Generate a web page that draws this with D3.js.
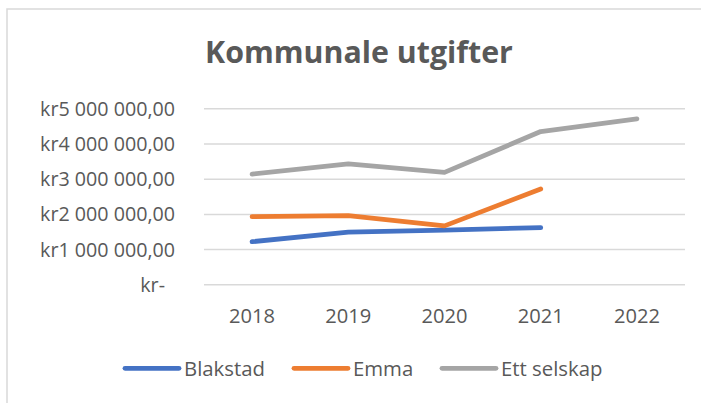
<!DOCTYPE html>
<html>
<head>
<meta charset="utf-8">
<script src="https://cdn.jsdelivr.net/npm/d3@7"></script>
<style>
  html, body { margin: 0; padding: 0; background: #ffffff; }
  svg { display: block; }
</style>
</head>
<body>
<svg id="chart" width="701" height="403"></svg>
<script>
// ---- data ----
const years = ["2018", "2019", "2020", "2021", "2022"];
const seriesNames = ["Blakstad", "Emma", "Ett selskap"];
const blakstad = [1210000, 1480000, 1540000, 1610000, null];
const emma = [1920000, 1950000, 1660000, 2710000, null];
const ettSelskap = [3130000, 3420000, 3180000, 4340000, 4700000];
const yTicks = [0, 1000000, 2000000, 3000000, 4000000, 5000000];
const title = "Kommunale utgifter";

const colors = ["#4472C4", "#ED7D31", "#A5A5A5"];
const seriesValues = [blakstad, emma, ettSelskap];

const svg = d3.select("#chart");
const font = "'Open Sans', 'Noto Sans', sans-serif";
const textColor = "#595959";

// size a font so that a sample text reaches a target width
function fitSize(sample, target, weight) {
  const t = svg.append("text")
    .attr("font-family", font).attr("font-size", 20)
    .attr("font-weight", weight || "normal")
    .text(sample);
  const w = t.node().getComputedTextLength();
  t.remove();
  return w > 0 ? 20 * target / w : 20;
}
const titleSize = fitSize(title, 308, "bold");
const ySize = fitSize("kr5 000 000,00", 135, "normal");
const xSize = fitSize("2018", 46, "normal");
const legSize = fitSize("Blakstad", 81, "normal");

// chart border
svg.append("rect")
  .attr("x", 7).attr("y", 9)
  .attr("width", 720).attr("height", 420)
  .attr("fill", "none")
  .attr("stroke", "#d9d9d9")
  .attr("stroke-width", 1.5);

// title
svg.append("text")
  .attr("x", 359).attr("y", 63)
  .attr("text-anchor", "middle")
  .attr("font-family", font)
  .attr("font-weight", "bold")
  .attr("font-size", titleSize)
  .attr("fill", textColor)
  .text(title);

const x = d3.scaleBand().domain(years).range([204, 685]);
const y = d3.scaleLinear().domain([0, 5000000]).range([284.3, 108.3]);

const nbLocale = d3.formatLocale({
  decimal: ",", thousands: "\u00a0", grouping: [3], currency: ["kr", ""]
});
const fmt = nbLocale.format("$,.2f");
const fmtTick = v => v === 0 ? "kr-" : fmt(v).replace(/\u00a0/g, " ");

// gridlines
const yAxisGrid = d3.axisLeft(y).tickValues(yTicks)
  .tickSize(-(685 - 204)).tickFormat("");
const gGrid = svg.append("g").attr("transform", "translate(204,0)").call(yAxisGrid);
gGrid.select(".domain").remove();
gGrid.selectAll("line").attr("stroke", "#d9d9d9").attr("stroke-width", 1.5);

// y labels
const yAxis = d3.axisLeft(y).tickValues(yTicks).tickSize(0).tickPadding(0).tickFormat(fmtTick);
const gY = svg.append("g").attr("transform", "translate(175,0)").call(yAxis);
gY.select(".domain").remove();
gY.selectAll("text")
  .attr("font-family", font).attr("font-size", ySize)
  .attr("fill", textColor)
  .attr("dy", "0.36em")
  .attr("dx", d => d === 0 ? -10 : 0);

// x labels
const xAxis = d3.axisBottom(x).tickSize(0).tickPadding(0);
const gX = svg.append("g").attr("transform", "translate(0,323)").call(xAxis);
gX.select(".domain").remove();
gX.selectAll("text")
  .attr("font-family", font).attr("font-size", xSize)
  .attr("fill", textColor)
  .attr("y", 0)
  .attr("dy", "0");

// lines
const line = d3.line()
  .defined(d => d.v !== null)
  .x(d => x(d.year) + x.bandwidth() / 2)
  .y(d => y(d.v));

seriesValues.forEach((vals, i) => {
  const pts = years.map((yr, j) => ({ year: yr, v: vals[j] }));
  svg.append("path")
    .datum(pts)
    .attr("d", line)
    .attr("fill", "none")
    .attr("stroke", colors[i])
    .attr("stroke-width", 4.8)
    .attr("stroke-linecap", "round")
    .attr("stroke-linejoin", "round");
});

// legend
const legendX = [125, 294, 442];
const legend = svg.append("g");
seriesNames.forEach((name, i) => {
  legend.append("line")
    .attr("x1", legendX[i]).attr("x2", legendX[i] + 54)
    .attr("y1", 368.3).attr("y2", 368.3)
    .attr("stroke", colors[i])
    .attr("stroke-width", 4.8)
    .attr("stroke-linecap", "round");
  legend.append("text")
    .attr("x", legendX[i] + 59).attr("y", 376)
    .attr("font-family", font).attr("font-size", legSize)
    .attr("fill", textColor)
    .text(name);
});
</script>
</body>
</html>
